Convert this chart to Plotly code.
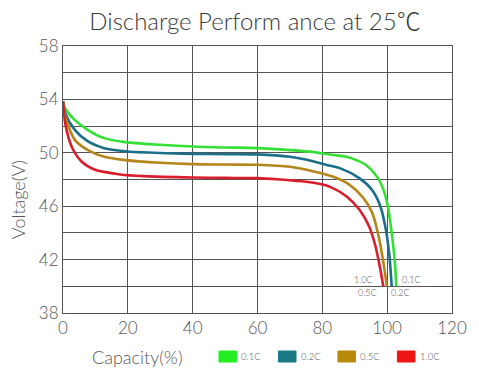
import plotly.graph_objects as go

# Discharge curves at 25 °C for four C-rates
rates = ["0.1C", "0.2C", "0.5C", "1.0C"]

cap_01 = [0, 0.7, 3.7, 7.7, 12.7, 19.2, 30, 40, 50, 60, 70, 77.4, 83, 87.4, 91, 93.4, 96.9, 98.9, 100.2, 101.4, 102.4, 102.8]
volt_01 = [53.85, 53.3, 52.45, 51.7, 51.1, 50.8, 50.6, 50.47, 50.4, 50.35, 50.2, 50.05, 49.85, 49.7, 49.4, 49.1, 48.2, 47.2, 46.0, 44.0, 41.7, 40.0]

cap_02 = [0, 0.7, 3.7, 7.7, 12.7, 19.2, 30, 40, 50, 60, 70, 77.4, 82, 85.4, 91.4, 95.4, 97.9, 99.4, 100.6, 101.4]
volt_02 = [53.85, 52.95, 51.7, 50.85, 50.35, 50.12, 49.98, 49.92, 49.9, 49.88, 49.7, 49.35, 49.05, 48.85, 48.1, 47.2, 46.0, 44.5, 42.5, 40.0]

cap_05 = [0, 0.7, 3.7, 7.7, 12.7, 19.2, 30, 40, 50, 60, 70, 77.4, 83.4, 88.4, 92.4, 95.4, 97.4, 98.9, 99.9]
volt_05 = [53.85, 52.7, 50.95, 50.2, 49.7, 49.45, 49.25, 49.15, 49.12, 49.1, 48.95, 48.6, 48.2, 47.6, 46.7, 45.5, 43.7, 41.7, 40.0]

cap_10 = [0, 0.7, 2.7, 5.7, 9.7, 17.7, 25, 40, 50, 60, 66, 72, 77.4, 82.4, 87.4, 91.4, 94.4, 96.4, 97.9, 98.8]
volt_10 = [53.85, 52.2, 50.45, 49.35, 48.75, 48.38, 48.25, 48.15, 48.12, 48.1, 48.02, 47.9, 47.75, 47.45, 46.75, 45.75, 44.5, 43.0, 41.25, 40.0]

x_ticks = [0, 20, 40, 60, 80, 100, 120]
y_ticks = [38, 42, 46, 50, 54, 58]

series = [(cap_01, volt_01), (cap_02, volt_02), (cap_05, volt_05), (cap_10, volt_10)]
line_colors = ["#34e034", "#1b6f88", "#b5861a", "#d81e2c"]
swatch_colors = ["#22ee22", "#1a7a84", "#b88a0a", "#ee1515"]

W, H = 479, 372
L, R, T, B = 63, 17, 46, 59
pw, ph = W - L - R, H - T - B


def px_x(p):
    return (p - L) / pw


def px_y(p):
    return (H - B - p) / ph


FONT = "Lato, 'Noto Sans CJK SC', sans-serif"
WEIGHT = 300
TXT = "#555555"
GRID = "#555555"

fig = go.Figure()
for (cx, cv), name, col in zip(series, rates, line_colors):
    fig.add_trace(go.Scatter(
        x=cx, y=cv, mode="lines", name=name, showlegend=False,
        line=dict(color=col, width=2.6, shape="spline", smoothing=0.8),
    ))

annotations = []
shapes = []

# labels next to the curve ends
end_label = {
    "1.0C": dict(y=40.5, xanchor="right", xshift=-8),
    "0.5C": dict(y=39.5, xanchor="right", xshift=-8),
    "0.2C": dict(y=39.5, xanchor="left", xshift=-3),
    "0.1C": dict(y=40.5, xanchor="left", xshift=4),
}
for (cx, cv), name in zip(series, rates):
    spec = end_label[name]
    annotations.append(dict(
        x=cx[-1], y=spec["y"], xref="x", yref="y", text=name, showarrow=False,
        xanchor=spec["xanchor"], yanchor="middle", xshift=spec["xshift"],
        font=dict(family=FONT, size=9, color=TXT, weight=WEIGHT),
    ))

# legend row below the plot
leg_x0, leg_step, leg_y0, leg_y1 = 223, 61, 351, 362
for i, (name, col) in enumerate(zip(rates, swatch_colors)):
    x0 = leg_x0 + i * leg_step
    shapes.append(dict(
        type="rect", xref="paper", yref="paper",
        x0=px_x(x0), x1=px_x(x0 + 18), y0=px_y(leg_y1), y1=px_y(leg_y0),
        fillcolor=col, line=dict(color=col, width=1),
    ))
    annotations.append(dict(
        x=px_x(x0 + 21), y=px_y((leg_y0 + leg_y1) / 2), xref="paper", yref="paper",
        text=name, showarrow=False, xanchor="left", yanchor="middle",
        font=dict(family=FONT, size=9.5, color=TXT, weight=WEIGHT),
    ))

annotations.append(dict(
    x=px_x(17), y=px_y(200), xref="paper", yref="paper", text="Voltage(V)",
    showarrow=False, textangle=-90, xanchor="center", yanchor="middle",
    font=dict(family=FONT, size=18, color=TXT, weight=WEIGHT),
))
annotations.append(dict(
    x=px_x(139), y=px_y(357), xref="paper", yref="paper", text="Capacity(%)",
    showarrow=False, xanchor="center", yanchor="middle",
    font=dict(family=FONT, size=18, color=TXT, weight=WEIGHT),
))

fig.update_layout(
    width=W, height=H,
    margin=dict(l=L, r=R, t=T, b=B),
    paper_bgcolor="white", plot_bgcolor="white",
    title=dict(text="Discharge Perform ance at 25℃", x=255 / W, y=1 - 22 / H,
               xanchor="center", yanchor="middle",
               font=dict(family=FONT, size=24, color="#3a3a3a", weight=WEIGHT)),
    xaxis=dict(range=[0, 120], tickvals=x_ticks, showgrid=True, gridcolor=GRID,
               gridwidth=1, showline=True, linecolor=GRID, mirror=True, zeroline=False,
               ticks="", tickfont=dict(family=FONT, size=17, color=TXT, weight=WEIGHT)),
    yaxis=dict(range=[38, 58], tickvals=y_ticks, showgrid=True, gridcolor=GRID,
               gridwidth=1, showline=True, linecolor=GRID, mirror=True, zeroline=False,
               ticks="", tickfont=dict(family=FONT, size=17, color=TXT, weight=WEIGHT),
               minor=dict(dtick=2, tick0=38, showgrid=True, gridcolor=GRID, gridwidth=1)),
    annotations=annotations,
    shapes=shapes,
)

fig.write_html("out.html")
